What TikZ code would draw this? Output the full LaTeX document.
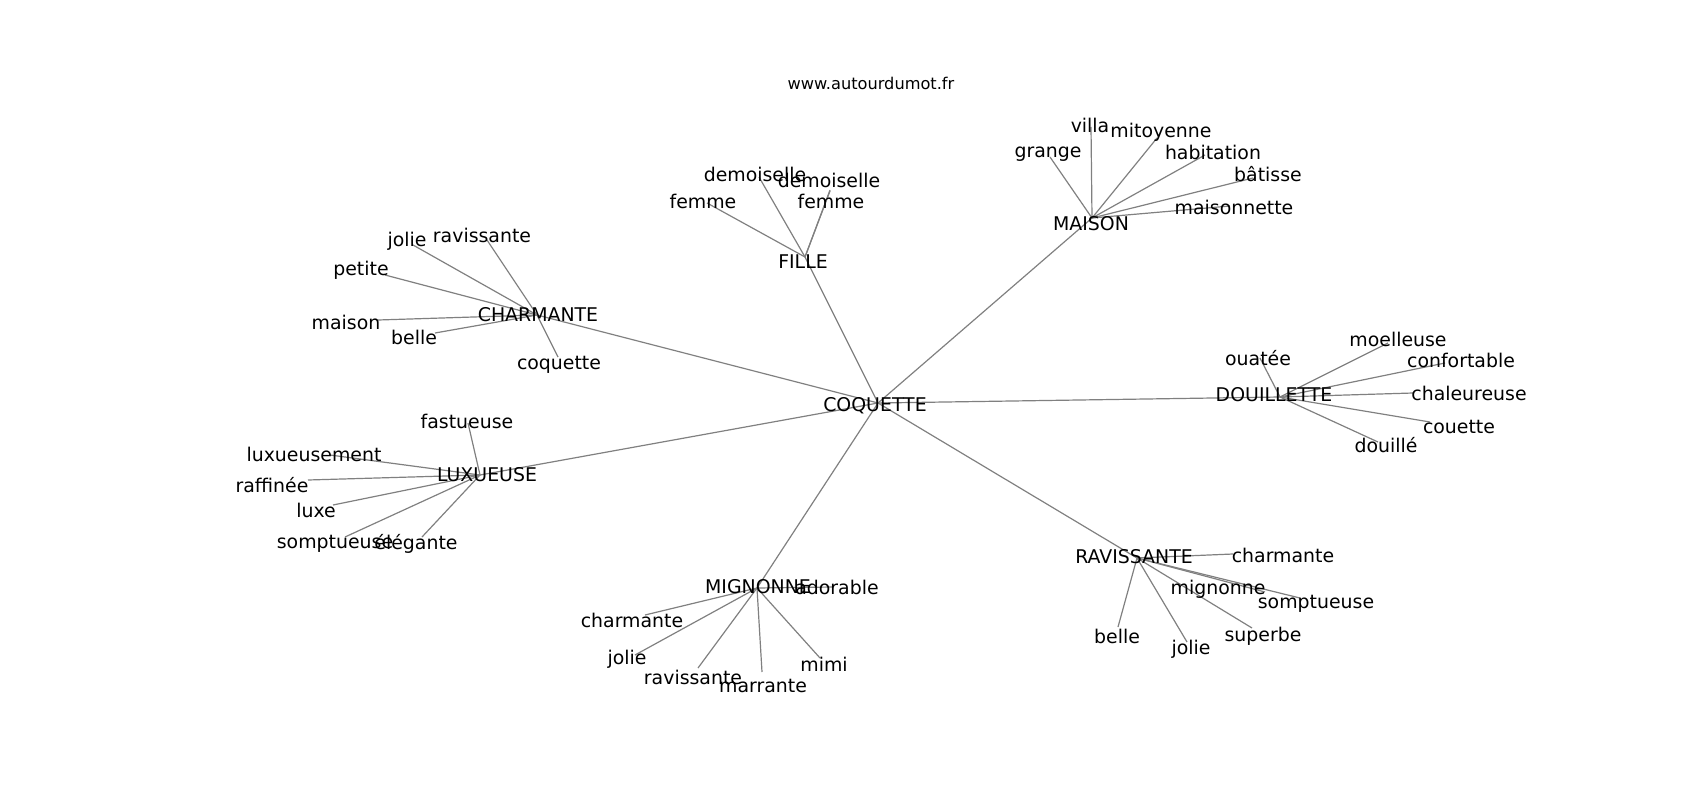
\documentclass[tikz,border=0pt]{standalone}
\usepackage{fontspec}
\setmainfont{DejaVu Sans}
\usepackage{xcolor}
\usepackage{tikz}
\usetikzlibrary{positioning, calc}
\definecolor{edgeColor}{RGB}{128,128,128}
\tikzset{
    word/.style={
        font=\fontsize{18.9}{22}\selectfont,
        inner sep=0pt,
        yshift=-2pt,
        text=black
    },
    title/.style={
        font=\fontsize{16.2}{19}\selectfont,
        inner sep=0pt
    },
    edge/.style={
        draw=edgeColor,
        line width=1.2pt
    }
}

\begin{document}
\begin{tikzpicture}[x=1pt, y=-1pt]
                \useasboundingbox (0,0) rectangle (1700,800);

                % points ou aboutissent les traits
                \coordinate (coq) at (878,403);
                \coordinate (cha) at (537,315);
                \coordinate (fil) at (805,257);
                \coordinate (mai) at (1092,218);
                \coordinate (dou) at (1280,397);
                \coordinate (rav) at (1137,558);
                \coordinate (mig) at (757,588);
                \coordinate (lux) at (480,475);

                \coordinate (cha1) at (413,245);
                \coordinate (cha2) at (487,240);
                \coordinate (cha3) at (385,275);
                \coordinate (cha4) at (378,320);
                \coordinate (cha5) at (435,333);
                \coordinate (cha6) at (558,357);

                \coordinate (fil1) at (707,203);
                \coordinate (fil2) at (759,177);
                \coordinate (fil3) at (830,190);
                \coordinate (fil4) at (830,191);

                \coordinate (mai1) at (1050,157);
                \coordinate (mai2) at (1091,127);
                \coordinate (mai3) at (1157,138);
                \coordinate (mai4) at (1205,155);
                \coordinate (mai5) at (1253,178);
                \coordinate (mai6) at (1230,206);

                \coordinate (dou1) at (1260,358);
                \coordinate (dou2) at (1388,343);
                \coordinate (dou3) at (1445,363);
                \coordinate (dou4) at (1413,393);
                \coordinate (dou5) at (1430,422);
                \coordinate (dou6) at (1378,442);

                \coordinate (lux1) at (468,423);
                \coordinate (lux2) at (330,455);
                \coordinate (lux3) at (308,480);
                \coordinate (lux4) at (333,505);
                \coordinate (lux5) at (345,537);
                \coordinate (lux6) at (422,537);

                \coordinate (mig1) at (833,587);
                \coordinate (mig2) at (645,615);
                \coordinate (mig3) at (635,655);
                \coordinate (mig4) at (698,668);
                \coordinate (mig5) at (762,672);
                \coordinate (mig6) at (820,658);

                \coordinate (rav1) at (1233,554);
                \coordinate (rav2) at (1265,592);
                \coordinate (rav3) at (1300,598);
                \coordinate (rav4) at (1252,628);
                \coordinate (rav5) at (1187,642);
                \coordinate (rav6) at (1118,627);

                % traits
                \draw[edge] (coq) -- (cha);
                \draw[edge] (coq) -- (fil);
                \draw[edge] (coq) -- (mai);
                \draw[edge] (coq) -- (dou);
                \draw[edge] (coq) -- (rav);
                \draw[edge] (coq) -- (mig);
                \draw[edge] (coq) -- (lux);

                \draw[edge] (cha) -- (cha1);
                \draw[edge] (cha) -- (cha2);
                \draw[edge] (cha) -- (cha3);
                \draw[edge] (cha) -- (cha4);
                \draw[edge] (cha) -- (cha5);
                \draw[edge] (cha) -- (cha6);

                \draw[edge] (fil) -- (fil1);
                \draw[edge] (fil) -- (fil2);
                \draw[edge] (fil) -- (fil3);
                \draw[edge] (fil) -- (fil4);

                \draw[edge] (mai) -- (mai1);
                \draw[edge] (mai) -- (mai2);
                \draw[edge] (mai) -- (mai3);
                \draw[edge] (mai) -- (mai4);
                \draw[edge] (mai) -- (mai5);
                \draw[edge] (mai) -- (mai6);

                \draw[edge] (dou) -- (dou1);
                \draw[edge] (dou) -- (dou2);
                \draw[edge] (dou) -- (dou3);
                \draw[edge] (dou) -- (dou4);
                \draw[edge] (dou) -- (dou5);
                \draw[edge] (dou) -- (dou6);

                \draw[edge] (lux) -- (lux1);
                \draw[edge] (lux) -- (lux2);
                \draw[edge] (lux) -- (lux3);
                \draw[edge] (lux) -- (lux4);
                \draw[edge] (lux) -- (lux5);
                \draw[edge] (lux) -- (lux6);

                \draw[edge] (mig) -- (mig1);
                \draw[edge] (mig) -- (mig2);
                \draw[edge] (mig) -- (mig3);
                \draw[edge] (mig) -- (mig4);
                \draw[edge] (mig) -- (mig5);
                \draw[edge] (mig) -- (mig6);

                \draw[edge] (rav) -- (rav1);
                \draw[edge] (rav) -- (rav2);
                \draw[edge] (rav) -- (rav3);
                \draw[edge] (rav) -- (rav4);
                \draw[edge] (rav) -- (rav5);
                \draw[edge] (rav) -- (rav6);

                % mots
                \node[title] (site) at (871,83) {www.autourdumot.fr};

                \node[word] (coqL) at (875,404) {COQUETTE};
                \node[word] (chaL) at (538,313) {CHARMANTE};
                \node[word] (filL) at (803,260) {FILLE};
                \node[word] (maiL) at (1091,222) {MAISON};
                \node[word] (douL) at (1274,393) {DOUILLETTE};
                \node[word] (ravL) at (1134,555) {RAVISSANTE};
                \node[word] (migL) at (758,585) {MIGNONNE};
                \node[word] (luxL) at (487,473) {LUXUEUSE};

                \node[word] (cha1L) at (407,239) {jolie};
                \node[word] (cha2L) at (482,233) {ravissante};
                \node[word] (cha3L) at (361,268) {petite};
                \node[word] (cha4L) at (346,320) {maison};
                \node[word] (cha5L) at (414,335) {belle};
                \node[word] (cha6L) at (559,363) {coquette};

                \node[word] (fil1L) at (703,199) {femme};
                \node[word] (fil2L) at (755,172) {demoiselle};
                \node[word] (fil3L) at (829,178) {demoiselle};
                \node[word] (fil4L) at (831,199) {femme};

                \node[word] (mai1L) at (1048,152) {grange};
                \node[word] (mai2L) at (1090,123) {villa};
                \node[word] (mai3L) at (1161,130) {mitoyenne};
                \node[word] (mai4L) at (1213,150) {habitation};
                \node[word] (mai5L) at (1268,172) {bâtisse};
                \node[word] (mai6L) at (1234,205) {maisonnette};

                \node[word] (dou1L) at (1258,356) {ouatée};
                \node[word] (dou2L) at (1398,337) {moelleuse};
                \node[word] (dou3L) at (1461,358) {confortable};
                \node[word] (dou4L) at (1469,391) {chaleureuse};
                \node[word] (dou5L) at (1459,425) {couette};
                \node[word] (dou6L) at (1386,443) {douillé};

                \node[word] (lux1L) at (467,419) {fastueuse};
                \node[word] (lux2L) at (314,452) {luxueusement};
                \node[word] (lux3L) at (272,483) {raffinée};
                \node[word] (lux4L) at (316,508) {luxe};
                \node[word] (lux5L) at (335,542) {somptueuse};
                \node[word] (lux6L) at (416,542) {élégante};

                \node[word] (mig1L) at (837,585) {adorable};
                \node[word] (mig2L) at (632,618) {charmante};
                \node[word] (mig3L) at (627,657) {jolie};
                \node[word] (mig4L) at (693,675) {ravissante};
                \node[word] (mig5L) at (763,684) {marrante};
                \node[word] (mig6L) at (824,662) {mimi};

                \node[word] (rav1L) at (1283,553) {charmante};
                \node[word] (rav2L) at (1218,587) {mignonne};
                \node[word] (rav3L) at (1316,602) {somptueuse};
                \node[word] (rav4L) at (1263,634) {superbe};
                \node[word] (rav5L) at (1191,647) {jolie};
                \node[word] (rav6L) at (1117,634) {belle};
            \end{tikzpicture}
\end{document}
